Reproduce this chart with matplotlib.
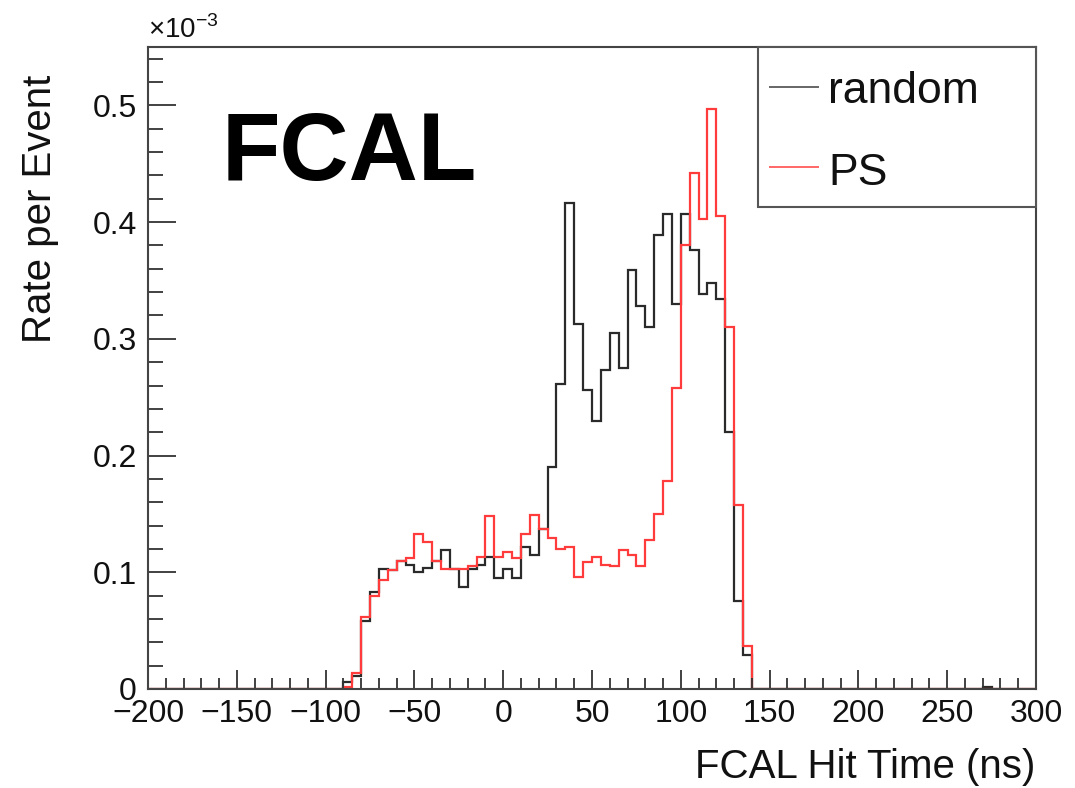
import numpy as np
import matplotlib
matplotlib.use("Agg")
import matplotlib.pyplot as plt
from matplotlib.patches import Rectangle
from matplotlib.lines import Line2D
from matplotlib.ticker import MultipleLocator

plt.rcParams['font.family'] = ['Liberation Sans', 'DejaVu Sans']

# Histogram: 5 ns bins from -200 to 300 ns, values in units of 1e-3
bin_lo = -200
bin_hi = 300
bin_width = 5

# bins -200 ... -95 (22 bins) are empty
random_vals = [0.0, 0.0, 0.0, 0.0, 0.0, 0.0, 0.0, 0.0, 0.0, 0.0, 0.0,
               0.0, 0.0, 0.0, 0.0, 0.0, 0.0, 0.0, 0.0, 0.0, 0.0, 0.0,
               # -90 .. 135
               0.006, 0.011, 0.058, 0.083, 0.103, 0.102, 0.110, 0.106, 0.100, 0.104,
               0.110, 0.119, 0.103, 0.087, 0.103, 0.106, 0.113, 0.095, 0.103, 0.095,
               0.122, 0.115, 0.137, 0.190, 0.261, 0.416, 0.313, 0.256, 0.230, 0.273,
               0.305, 0.275, 0.359, 0.328, 0.310, 0.389, 0.407, 0.330, 0.407, 0.376,
               0.338, 0.348, 0.334, 0.220, 0.075, 0.029,
               # 140 .. 295
               0.0, 0.0, 0.0, 0.0, 0.0, 0.0, 0.0, 0.0, 0.0, 0.0, 0.0,
               0.0, 0.0, 0.0, 0.0, 0.0, 0.0, 0.0, 0.0, 0.0, 0.0, 0.0,
               0.0, 0.0, 0.0, 0.0, 0.002, 0.0, 0.0, 0.0, 0.0, 0.0]

ps_vals = [0.0, 0.0, 0.0, 0.0, 0.0, 0.0, 0.0, 0.0, 0.0, 0.0, 0.0,
           0.0, 0.0, 0.0, 0.0, 0.0, 0.0, 0.0, 0.0, 0.0, 0.0, 0.0,
           # -90 .. 135
           0.002, 0.014, 0.062, 0.080, 0.093, 0.102, 0.110, 0.112, 0.133, 0.126,
           0.110, 0.103, 0.103, 0.103, 0.105, 0.113, 0.148, 0.113, 0.117, 0.112,
           0.133, 0.149, 0.137, 0.129, 0.120, 0.122, 0.096, 0.109, 0.113, 0.106,
           0.105, 0.119, 0.115, 0.105, 0.128, 0.150, 0.178, 0.258, 0.380, 0.442,
           0.403, 0.497, 0.405, 0.310, 0.158, 0.037,
           # 140 .. 295
           0.0, 0.0, 0.0, 0.0, 0.0, 0.0, 0.0, 0.0, 0.0, 0.0, 0.0,
           0.0, 0.0, 0.0, 0.0, 0.0, 0.0, 0.0, 0.0, 0.0, 0.0, 0.0,
           0.0, 0.0, 0.0, 0.0, 0.0, 0.0, 0.0, 0.0, 0.0, 0.0]

series_labels = ["random", "PS"]
x_ticks = [-200, -150, -100, -50, 0, 50, 100, 150, 200, 250, 300]
y_ticks = [0, 0.1, 0.2, 0.3, 0.4, 0.5]
y_ticklabels = ["0", "0.1", "0.2", "0.3", "0.4", "0.5"]

edges = np.arange(bin_lo, bin_hi + bin_width, bin_width)

fig = plt.figure(figsize=(10.75, 7.88), dpi=100)
ax = fig.add_axes([148/1075, 1 - 689/788, (1036-148)/1075, (689-47)/788])

black_c = '#2a2a2a'
red_c = '#ff3b3b'
ax.stairs(random_vals, edges, color=black_c, lw=1.6, baseline=0)
ax.stairs(ps_vals, edges, color=red_c, lw=1.6, baseline=0)

ax.set_xlim(-200, 300)
ax.set_ylim(0, 0.55)
ax.set_xticks(x_ticks)
ax.set_xticklabels([str(t).replace('-', '\u2212') for t in x_ticks])
ax.set_yticks(y_ticks)
ax.set_yticklabels(y_ticklabels)
ax.xaxis.set_minor_locator(MultipleLocator(10))
ax.yaxis.set_minor_locator(MultipleLocator(0.02))

ax.tick_params(axis='both', which='both', direction='in', top=False, right=False,
               labelsize=23, color='#333333', width=1.3, labelcolor='#111111')
ax.tick_params(axis='x', which='major', length=14, pad=7)
ax.tick_params(axis='x', which='minor', length=8)
ax.tick_params(axis='y', which='major', length=20, pad=8)
ax.tick_params(axis='y', which='minor', length=11)
for s in ax.spines.values():
    s.set_color('#444444')
    s.set_linewidth(1.5)

# axis titles (ROOT style, aligned to the end of the axis)
ax.text((1035-148)/888, (689-778)/642, "FCAL Hit Time (ns)", transform=ax.transAxes,
        ha='right', va='baseline', fontsize=29, color='#111111')
ax.text((40-148)/888, (689-75)/642, "Rate per Event", transform=ax.transAxes,
        ha='center', va='top', rotation=90, fontsize=29, color='#111111')
ax.text(0.0, 1.004, "\u00d710$^{\\mathregular{-3}}$", transform=ax.transAxes,
        ha='left', va='bottom', fontsize=20, color='#111111')

# big label
ax.text((222-148)/888, (689-180)/642, "FCAL", transform=ax.transAxes,
        ha='left', va='baseline', fontsize=69, fontweight='bold', color='black')

# legend box
leg_x0 = (758-148)/888
leg_y0 = (689-207)/642
ax.add_patch(Rectangle((leg_x0, leg_y0), 1 - leg_x0, 1 - leg_y0, transform=ax.transAxes,
                       facecolor='white', edgecolor='#555555', lw=1.5, zorder=5, clip_on=False))
lx0 = (770-148)/888
lx1 = (818-148)/888
for lab, col, yl, yt in [(series_labels[0], '#666666', (689-87)/642, (689-103)/642),
                         (series_labels[1], '#ff6666', (689-167)/642, (689-185)/642)]:
    ax.add_line(Line2D([lx0, lx1], [yl, yl], transform=ax.transAxes, color=col, lw=1.4,
                       zorder=6, clip_on=False))
    ax.text((828-148)/888, yt, lab, transform=ax.transAxes, ha='left', va='baseline',
            fontsize=32, color='#111111', zorder=7)

fig.savefig("out.png", dpi=100)
